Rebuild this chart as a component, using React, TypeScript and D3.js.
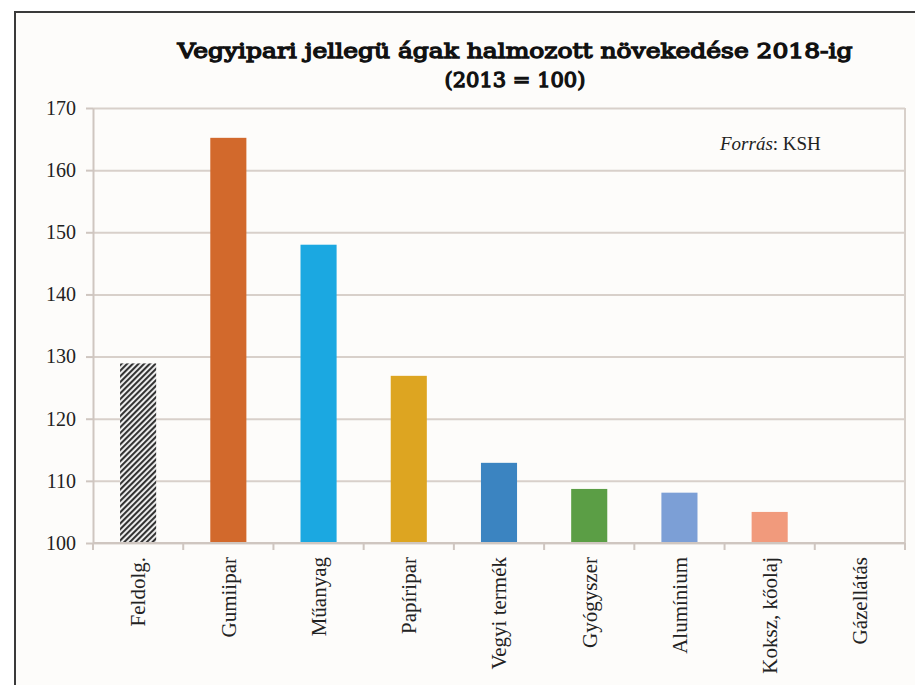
import React, { useEffect, useRef } from 'react';
import * as d3 from 'd3';

const categories = ['Feldolg.', 'Gumiipar', 'Műanyag', 'Papíripar', 'Vegyi termék', 'Gyógyszer', 'Alumínium', 'Koksz, kőolaj', 'Gázellátás'];
const values = [128.9, 165.2, 148.0, 126.9, 112.9, 108.7, 108.1, 105.0, 100.0];
const barColors = ['url(#hatch)', '#d2692c', '#1ba8e1', '#dda521', '#3b84c1', '#5b9e45', '#7c9fd6', '#f19a7c', '#888888'];
const yTicks = [100, 110, 120, 130, 140, 150, 160, 170];
const titleLines = ['Vegyipari jellegü ágak halmozott növekedése 2018-ig', '(2013 = 100)'];

const SERIF = '"Liberation Serif", "Times New Roman", serif';
const SLAB = '"DejaVu Serif", serif';

const App = () => {
  const ref = useRef<SVGSVGElement | null>(null);

  useEffect(() => {
    const width = 915;
    const height = 685;
    const margin = { top: 108, right: 10, bottom: 142, left: 93 };
    const plotW = width - margin.left - margin.right;
    const plotH = height - margin.top - margin.bottom;

    const svg = d3.select(ref.current);
    svg.selectAll('*').remove();

    const defs = svg.append('defs');
    const pat = defs.append('pattern')
      .attr('id', 'hatch')
      .attr('patternUnits', 'userSpaceOnUse')
      .attr('width', 4)
      .attr('height', 4)
      .attr('patternTransform', 'rotate(45)');
    pat.append('rect').attr('width', 4).attr('height', 4).attr('fill', '#f4f4f4');
    pat.append('line').attr('x1', 1).attr('y1', 0).attr('x2', 1).attr('y2', 4)
      .attr('stroke', '#333').attr('stroke-width', 2.2);

    // frame
    svg.append('rect').attr('x', 15).attr('y', 12).attr('width', 910).attr('height', 690)
      .attr('fill', '#fdfcfa').attr('stroke', '#3a3a3a').attr('stroke-width', 2);

    // title
    svg.append('text')
      .attr('x', 515).attr('y', 58)
      .attr('text-anchor', 'middle')
      .attr('textLength', 675)
      .attr('lengthAdjust', 'spacingAndGlyphs')
      .attr('font-family', SLAB)
      .attr('font-size', 21)
      .attr('fill', '#111')
      .attr('stroke', '#111')
      .attr('stroke-width', 1.3)
      .text(titleLines[0]);
    svg.append('text')
      .attr('x', 515).attr('y', 87)
      .attr('text-anchor', 'middle')
      .attr('font-family', SLAB)
      .attr('font-size', 21)
      .attr('fill', '#111')
      .attr('stroke', '#111')
      .attr('stroke-width', 1.3)
      .text(titleLines[1]);

    const g = svg.append('g').attr('transform', `translate(${margin.left},${margin.top})`);

    const x = d3.scaleBand().domain(categories).range([0, plotW]).paddingInner(0.6).paddingOuter(0.3);
    const y = d3.scaleLinear().domain([100, 170]).range([plotH, 0]);

    // grid
    g.append('g')
      .call(d3.axisLeft(y).tickValues(yTicks).tickSize(-plotW).tickFormat(() => ''))
      .call(a => a.select('.domain').remove())
      .selectAll('line')
      .attr('stroke', '#d8d0ca')
      .attr('stroke-width', 2);

    // left axis
    const yAxis = g.append('g')
      .call(d3.axisLeft(y).tickValues(yTicks).tickSize(7).tickPadding(10).tickSizeOuter(0));
    yAxis.attr('font-family', SERIF).attr('font-size', 20);
    yAxis.select('.domain').attr('stroke', '#cfc6c0').attr('stroke-width', 2);
    yAxis.selectAll('line').attr('stroke', '#cfc6c0').attr('stroke-width', 2);
    yAxis.selectAll('text')
      .attr('font-family', SERIF)
      .attr('font-size', 20)
      .attr('fill', '#222');

    // right edge
    g.append('line').attr('x1', plotW).attr('x2', plotW).attr('y1', 0).attr('y2', plotH)
      .attr('stroke', '#d8d0ca').attr('stroke-width', 2);

    // bars
    g.selectAll('rect.bar')
      .data(values)
      .join('rect')
      .attr('class', 'bar')
      .attr('x', (_, i) => x(categories[i]) as number)
      .attr('width', x.bandwidth())
      .attr('y', d => y(d))
      .attr('height', d => plotH - y(d))
      .attr('fill', (_, i) => barColors[i]);

    // bottom axis with ticks at category boundaries
    const step = x.step();
    const bounds = d3.range(categories.length + 1).map(i => i * step);
    g.append('line').attr('x1', 0).attr('x2', plotW).attr('y1', plotH).attr('y2', plotH)
      .attr('stroke', '#cfc6c0').attr('stroke-width', 2);
    g.selectAll('line.xtick')
      .data(bounds)
      .join('line')
      .attr('class', 'xtick')
      .attr('x1', d => d).attr('x2', d => d)
      .attr('y1', plotH).attr('y2', plotH + 7)
      .attr('stroke', '#cfc6c0').attr('stroke-width', 2);

    g.selectAll('text.xlab')
      .data(categories)
      .join('text')
      .attr('class', 'xlab')
      .attr('transform', d => `translate(${(x(d) as number) + x.bandwidth() / 2},${plotH + 14}) rotate(-90)`)
      .attr('text-anchor', 'end')
      .attr('dy', '0.35em')
      .attr('font-family', SERIF)
      .attr('font-size', 21)
      .attr('fill', '#222')
      .text(d => d);

    // source note
    const src = svg.append('text')
      .attr('x', 720).attr('y', 150)
      .attr('font-family', SERIF)
      .attr('font-size', 19)
      .attr('fill', '#222');
    src.append('tspan').attr('font-style', 'italic').text('Forrás');
    src.append('tspan').text(': KSH');
  }, []);

  return (
    <svg
      ref={ref}
      width={915}
      height={685}
      style={{ position: 'absolute', left: 0, top: 0, background: '#fff' }}
    />
  );
};

export default App;
